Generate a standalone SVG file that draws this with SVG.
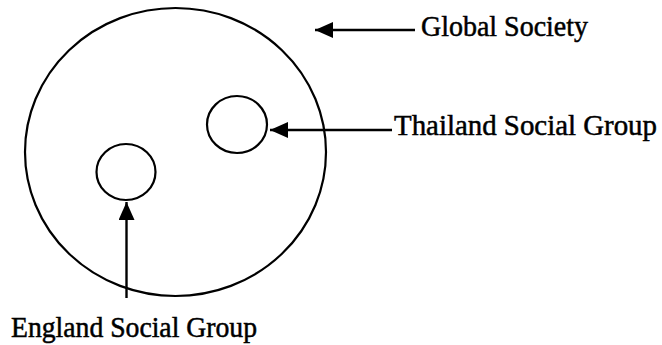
<svg xmlns="http://www.w3.org/2000/svg" width="662" height="345" viewBox="0 0 662 345">
<style>
.shape{fill:none;stroke:#000;stroke-width:2.2}
.conn{stroke:#000;stroke-width:2.4;fill:none}
.lbl{font-family:"Liberation Serif","Times New Roman",serif;font-size:28.5px;fill:#000;stroke:#000;stroke-width:0.5}
</style>
<defs>
<marker id="ah" markerUnits="userSpaceOnUse" markerWidth="19" markerHeight="17" refX="18" refY="8" orient="auto">
<path d="M0,0 L18,8 L0,16 z" fill="#000"/>
</marker>
</defs>
<rect width="662" height="345" fill="#fff"/>
<g id="global">
<ellipse class="shape" cx="175.5" cy="152" rx="150.5" ry="144"/>
<text class="lbl" x="421" y="36" textLength="167" lengthAdjust="spacingAndGlyphs">Global Society</text>
</g>
<g id="thailand">
<ellipse class="shape" cx="237" cy="124.5" rx="30" ry="28.5"/>
<text class="lbl" x="394" y="135" textLength="263" lengthAdjust="spacingAndGlyphs">Thailand Social Group</text>
</g>
<g id="england">
<ellipse class="shape" cx="126" cy="172" rx="29.5" ry="28"/>
<text class="lbl" x="11" y="336.5" textLength="246" lengthAdjust="spacingAndGlyphs">England Social Group</text>
</g>
<g id="connectors">
<line class="conn" x1="415" y1="30" x2="315" y2="30" marker-end="url(#ah)"/>
<line class="conn" x1="392" y1="130" x2="270" y2="130" marker-end="url(#ah)"/>
<line class="conn" x1="126.5" y1="298" x2="126.5" y2="202" marker-end="url(#ah)"/>
</g>
</svg>
